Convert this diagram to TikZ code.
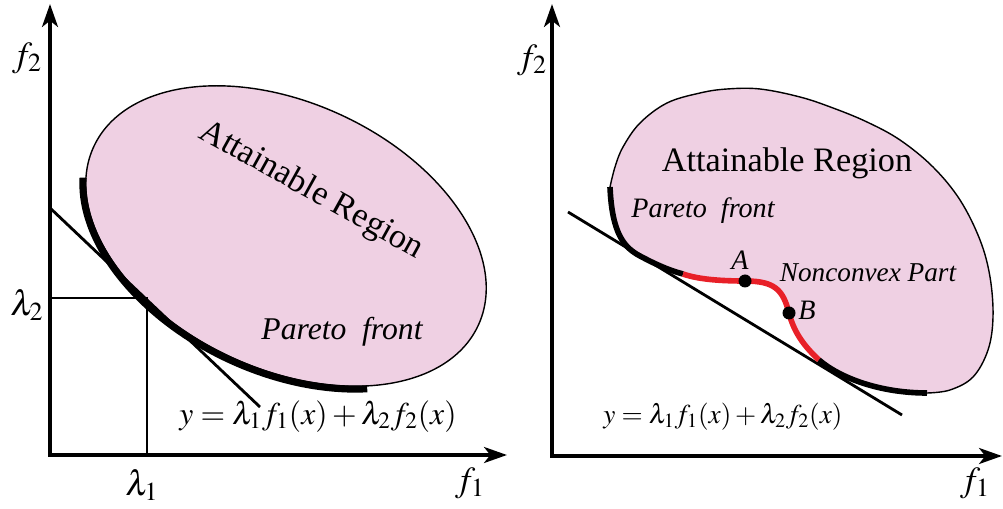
\documentclass[tikz,border=0pt]{standalone}
\usepackage{mathptmx}
\usepackage{fontspec}
\setmainfont{Liberation Serif}
\usetikzlibrary{arrows.meta}
\definecolor{reg}{HTML}{EFD0E3}
\definecolor{nonc}{HTML}{E82028}
\tikzset{
  axis/.style={line width=2.3pt,{Stealth[length=13pt,width=9pt,inset=3.5pt]}-{Stealth[length=13pt,width=9pt,inset=3.5pt]}},
  guide/.style={line width=0.8pt},
  tang/.style={line width=1.6pt},
  front/.style={line width=3.2pt},
  lbl/.style={font=\fontsize{20}{22}\selectfont},
  big/.style={font=\fontsize{19.5}{22}\selectfont},
  itl/.style={font=\fontsize{16}{18}\selectfont\itshape},
  dot/.style={circle,fill=black,inner sep=0pt,minimum size=7.4pt},
}

\begin{document}
\begin{tikzpicture}[x=0.02cm,y=-0.02cm]
\useasboundingbox (0,0) rectangle (1003,509);
% LEFT: convex front
\coordinate (Lo) at (50,455);
\coordinate (Ly) at (50,4);
\coordinate (Lx) at (507,455);
\begin{scope}[shift={(286,236)},rotate=-25]
  \draw[fill=reg,line width=0.8pt] (0,0) ellipse [x radius=212, y radius=133];
  \draw[front,line width=4pt] plot[domain=50:166,samples=60] ({215*cos(\x)},{136*sin(\x)});
\end{scope}
\coordinate (Lp) at (147,298);
\draw[guide] (Lo |- Lp) -- (Lp) -- (Lp |- Lo);
\coordinate (Lt1) at (49,207);
\coordinate (Lt2) at (260,407);
\draw[tang] (Lt1) -- (Lt2);
\draw[axis] (Ly) -- (Lo) -- (Lx);
\node[lbl] (Lf2) at (27,58) {$f_2$};
\node[lbl] (Lf1) at (470,483) {$f_1$};
\node[lbl] (Llam2) at (27,305) {$\lambda_2$};
\node[lbl] (Llam1) at (142,485) {$\lambda_1$};
\node[big,rotate=-29,anchor=base] (Lreg) at (307,198) {Attainable Region};
\node[itl,font=\fontsize{18}{20}\selectfont\itshape,anchor=base] (Lpar) at (342,340) {Pareto\ \ front};
\node[lbl,font=\fontsize{18}{20}\selectfont,anchor=base] (Leq) at (318,424)
  {$y=\lambda_1 f_1(x)+\lambda_2 f_2(x)$};
% RIGHT: nonconvex front
\coordinate (Ro) at (552,456);
\coordinate (Ry) at (552,4);
\coordinate (Rx) at (1002,456);
\draw[fill=reg,line width=0.8pt] (610,187) .. controls (612,235) and (625,248) .. (640,256)
  .. controls (655,264) and (668,270) .. (683,274)
  .. controls (700,280) and (725,281) .. (745,281)
  .. controls (775,281) and (783,290) .. (789,313)
  .. controls (794,333) and (805,347) .. (819,360)
  .. controls (840,378) and (880,393) .. (927,393)
  -- plot[smooth,tension=0.6] coordinates {(927,393) (950,390) (973,377) (988,350) (993,317)
     (990,277) (980,240) (960,200) (933,167) (900,140) (867,122) (833,108) (800,97)
     (760,89) (727,89) (700,93) (667,103) (640,123) (623,147) (615,167) (610,187)} -- cycle;
\coordinate (Rt1) at (568,212);
\coordinate (Rt2) at (902,415);
\draw[tang] (Rt1) -- (Rt2);
\draw[front] (610,187) .. controls (612,235) and (625,248) .. (640,256)
  .. controls (655,264) and (668,270) .. (683,274);
\draw[front,nonc] (683,274) .. controls (700,280) and (725,281) .. (745,281)
  .. controls (775,281) and (783,290) .. (789,313)
  .. controls (794,333) and (805,347) .. (819,360);
\draw[front] (819,360) .. controls (840,378) and (880,393) .. (927,393);
\node[dot] (A) at (745,281) {};
\node[dot] (B) at (789,313) {};
\node[itl,anchor=base] (Alab) at (740,270) {A};
\node[itl,anchor=base] (Blab) at (807,320) {B};
\draw[axis] (Ry) -- (Ro) -- (Rx);
\node[lbl] (Rf2) at (532,60) {$f_2$};
\node[lbl] (Rf1) at (975,483) {$f_1$};
\node[big,anchor=base] (Rreg) at (787,172) {Attainable Region};
\node[itl,anchor=base] (Rpar) at (703,218) {Pareto\ \ front};
\node[itl,font=\fontsize{15.5}{18}\selectfont\itshape,anchor=base] (Rnon) at (868,282) {Nonconvex Part};
\node[lbl,font=\fontsize{15.5}{18}\selectfont,anchor=base] (Req) at (723,423)
  {$y=\lambda_1 f_1(x)+\lambda_2 f_2(x)$};
\end{tikzpicture}
\end{document}
